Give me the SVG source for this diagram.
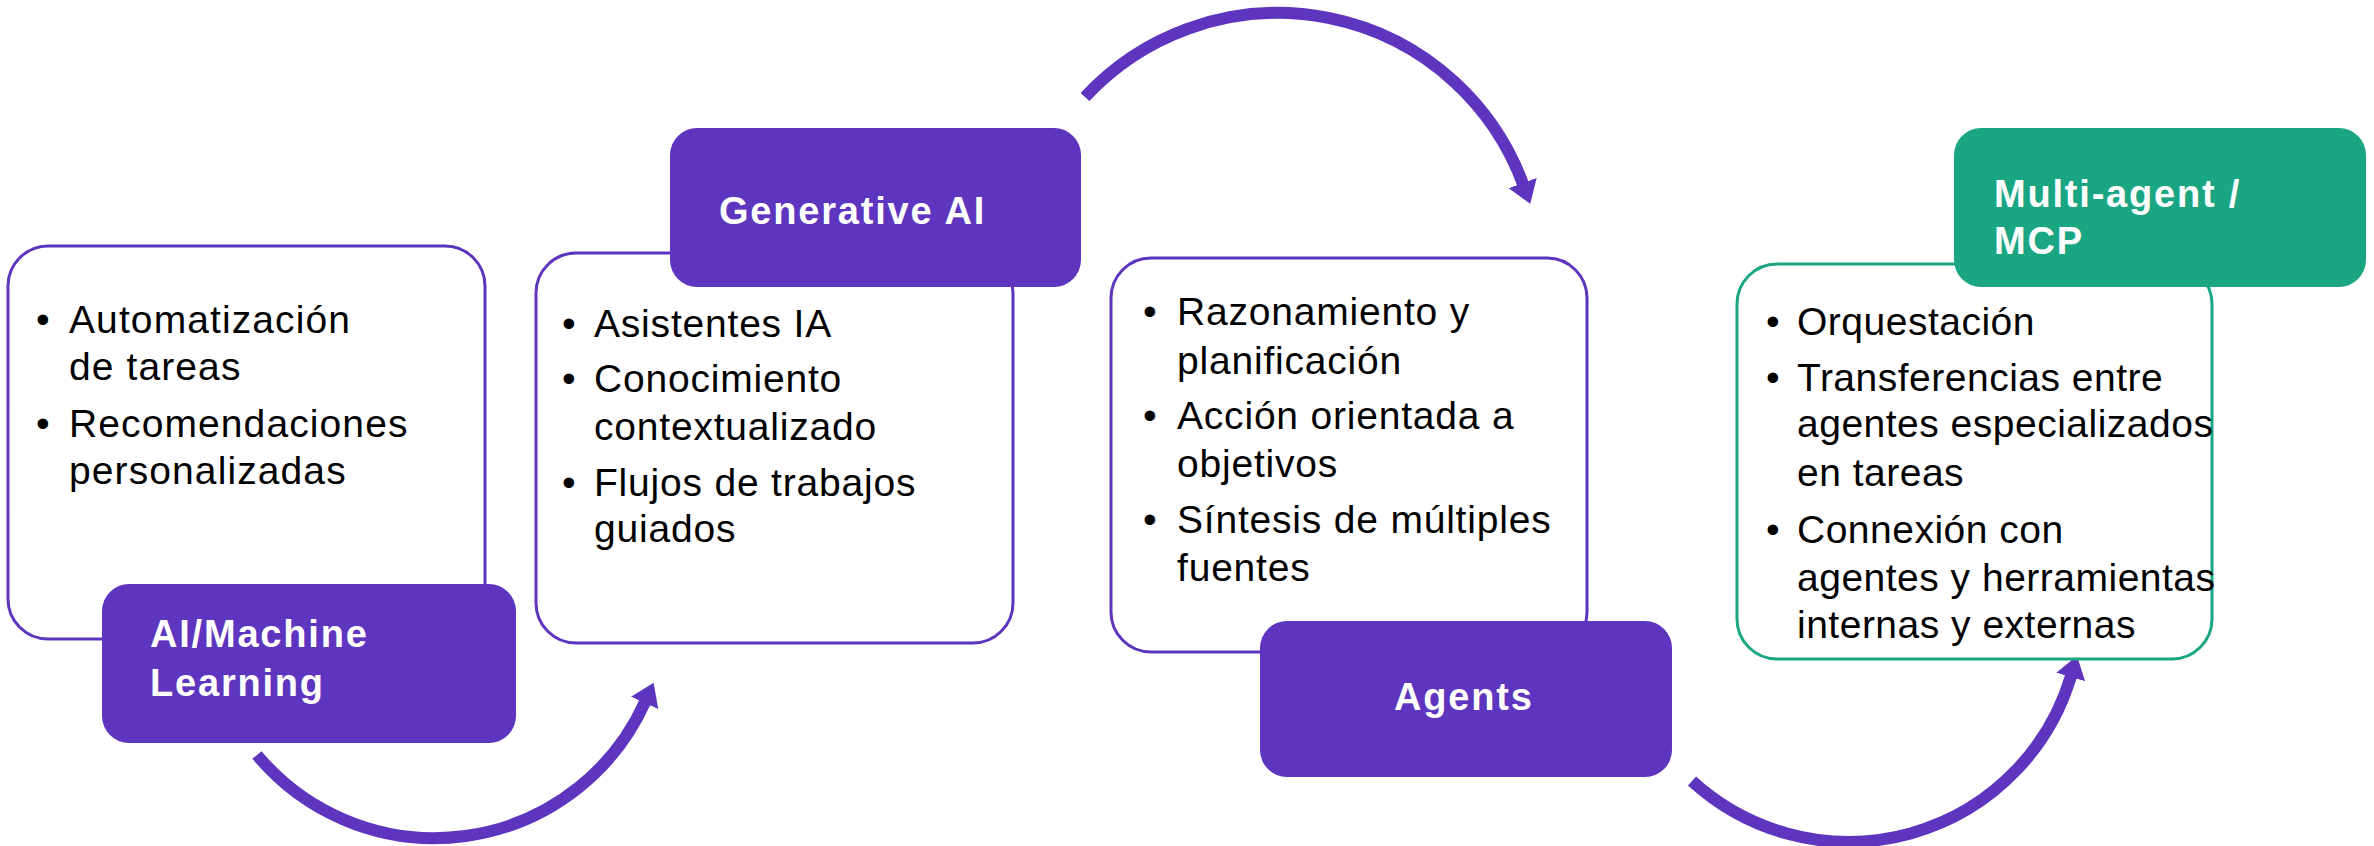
<svg xmlns="http://www.w3.org/2000/svg" width="2374" height="846" viewBox="0 0 2374 846">
<style>
.box{fill:#fff;stroke:#5E35BE;stroke-width:3}
.boxg{fill:#fff;stroke:#1BA683;stroke-width:3}
.lab{fill:#5E35BE}
.labg{fill:#1BA683}
.lt{font-family:"Liberation Sans",Arial,sans-serif;font-weight:bold;font-size:38px;fill:#fff;letter-spacing:1.8px}
.bt{font-family:"Liberation Sans",Arial,sans-serif;font-size:39px;fill:#000;letter-spacing:0.8px}
.b1{letter-spacing:1.1px}
.b4{letter-spacing:0.5px}
.arc{fill:none;stroke:#5E35BE;stroke-width:12}
</style>
<defs>
<marker id="ah" markerUnits="userSpaceOnUse" viewBox="0 0 22 30" refX="1" refY="15" markerWidth="22" markerHeight="30" orient="auto">
<path d="M0,0 L22,15 L0,30 Z" fill="#5E35BE"/>
</marker>
</defs>
<g id="connectors">
<path class="arc" d="M257,755 A231,231 0 0 0 645,702" marker-end="url(#ah)"/>
<path class="arc" d="M1085,97 A262,262 0 0 1 1523,184" marker-end="url(#ah)"/>
<path class="arc" d="M1692,781 A232,232 0 0 0 2071,676" marker-end="url(#ah)"/>
</g>
<g id="node-ml">
<rect class="box" x="8" y="246" width="477" height="393" rx="40"/>
<text class="bt b1" x="36" y="333">•</text>
<text class="bt b1" x="69" y="333">Automatización</text>
<text class="bt b1" x="69" y="380">de tareas</text>
<text class="bt b1" x="36" y="437">•</text>
<text class="bt b1" x="69" y="437">Recomendaciones</text>
<text class="bt b1" x="69" y="484">personalizadas</text>
<rect class="lab" x="102" y="584" width="414" height="159" rx="27"/>
<text class="lt" x="150" y="647">AI/Machine</text>
<text class="lt" x="150" y="696">Learning</text>
</g>
<g id="node-genai">
<rect class="box" x="536" y="253" width="477" height="390" rx="40"/>
<text class="bt" x="562" y="337">•</text>
<text class="bt" x="594" y="337">Asistentes IA</text>
<text class="bt" x="562" y="392">•</text>
<text class="bt" x="594" y="392">Conocimiento</text>
<text class="bt" x="594" y="440">contextualizado</text>
<text class="bt" x="562" y="496">•</text>
<text class="bt" x="594" y="496">Flujos de trabajos</text>
<text class="bt" x="594" y="542">guiados</text>
<rect class="lab" x="670" y="128" width="411" height="159" rx="27"/>
<text class="lt" x="719" y="224">Generative AI</text>
</g>
<g id="node-agents">
<rect class="box" x="1111" y="258" width="476" height="394" rx="40"/>
<text class="bt" x="1143" y="325">•</text>
<text class="bt" x="1177" y="325">Razonamiento y</text>
<text class="bt" x="1177" y="374">planificación</text>
<text class="bt" x="1143" y="429">•</text>
<text class="bt" x="1177" y="429">Acción orientada a</text>
<text class="bt" x="1177" y="477">objetivos</text>
<text class="bt" x="1143" y="533">•</text>
<text class="bt" x="1177" y="533">Síntesis de múltiples</text>
<text class="bt" x="1177" y="581">fuentes</text>
<rect class="lab" x="1260" y="621" width="412" height="156" rx="27"/>
<text class="lt" x="1394" y="710">Agents</text>
</g>
<g id="node-multiagent">
<rect class="boxg" x="1737" y="264" width="475" height="395" rx="40"/>
<text class="bt b4" x="1766" y="335">•</text>
<text class="bt b4" x="1797" y="335">Orquestación</text>
<text class="bt b4" x="1766" y="391">•</text>
<text class="bt b4" x="1797" y="391">Transferencias entre</text>
<text class="bt b4" x="1797" y="437">agentes especializados</text>
<text class="bt b4" x="1797" y="486">en tareas</text>
<text class="bt b4" x="1766" y="543">•</text>
<text class="bt b4" x="1797" y="543">Connexión con</text>
<text class="bt b4" x="1797" y="591">agentes y herramientas</text>
<text class="bt b4" x="1797" y="638">internas y externas</text>
<rect class="labg" x="1954" y="128" width="412" height="159" rx="27"/>
<text class="lt" x="1994" y="207">Multi-agent /</text>
<text class="lt" x="1994" y="254">MCP</text>
</g>
</svg>
